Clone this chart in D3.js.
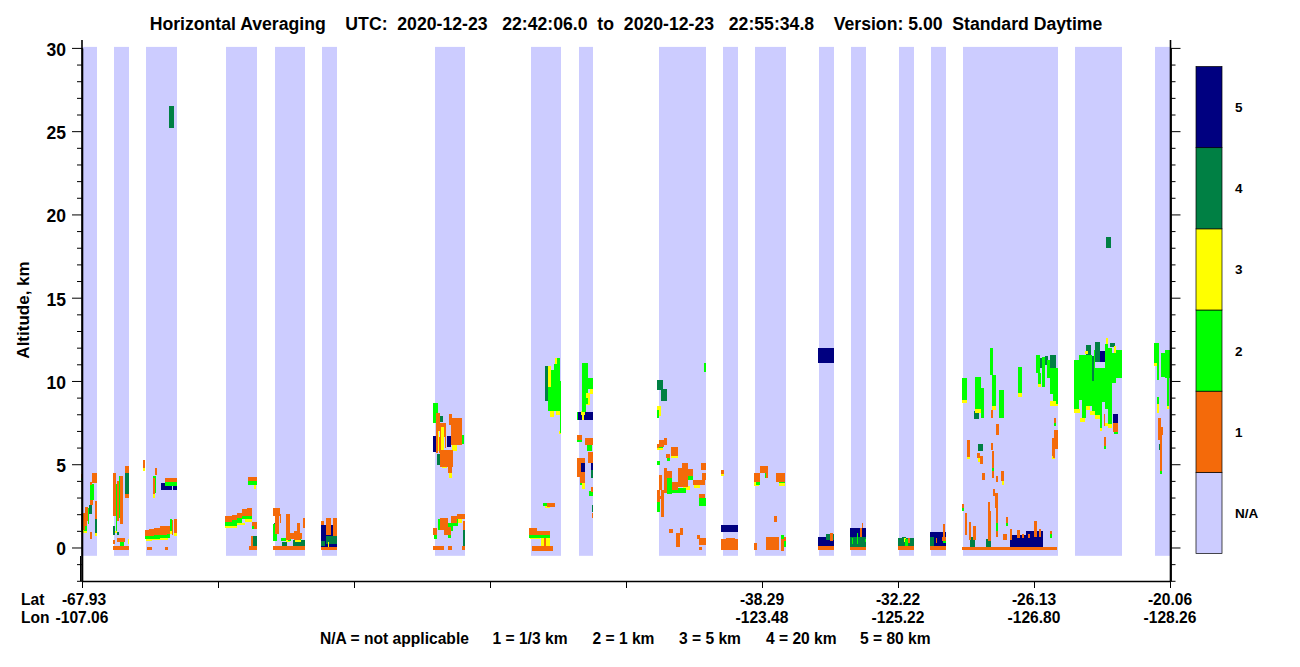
<!DOCTYPE html>
<html>
<head>
<meta charset="utf-8">
<script src="https://cdn.jsdelivr.net/npm/d3@7"></script>
<style>
  body { margin: 0; background: #fff; }
  text { font-family: "Liberation Sans", Arial, sans-serif; font-weight: bold; fill: #000; white-space: pre; }
</style>
</head>
<body>
<div id="viz"></div>
<script>
// along-track position is a profile index, altitude in km
// every row: [start, end, bottom, top]
const validSegments = [[0,15],[32,47],[64,95],[144,175],[193,223],[240,255],[353,383],[449,479],[497,511],
  [577,624],[641,656],[673,704],[737,752],[769,784],[817,832],[849,864],[881,976],[993,1040],[1073,1088]];

const navy5 = [
  [79,90,3.45,3.9],[91,95,3.45,3.9],[239,255,0.05,1.35],
  [351,354,5.75,6.7],[365,369,6.05,6.7],[495,511,7.65,8.15],[499,503,4.55,5.05],[509,511,4.65,5.05],
  [639,656,0.95,1.35],[736,752,11.05,11.95],[736,752,0.1,0.65],[768,784,0.65,1.15],[848,864,0.1,0.95],
  [928,944,0.05,0.75],[944,961,0.05,1.0],[1014,1023,11.15,11.8],[1031,1036,7.5,8.0]
];

const dkgreen4 = [
  [87,92,25.2,26.5],[1024,1029,18.0,18.65],
  [7,10,2.0,2.55],[13,15,0.8,1.7],[31,33,0.75,1.3],[35,37,0.75,0.95],[31,33,2.4,3.0],[43,47,3.2,4.5],
  [171,175,0.05,0.7],[192,194,0.45,1.5],[200,205,0.05,0.35],[211,223,0.05,0.45],
  [239,243,0.1,0.4],[244,252,0.2,0.7],[251,255,0.2,0.7],
  [356,361,7.55,7.9],[355,359,4.95,5.6],[378,380,6.2,6.8],[381,383,0.05,1.05],[463,466,8.8,10.9],
  [509,511,4.15,4.65],[510,511,2.15,2.55],[575,581,9.45,10.05],[579,585,8.8,9.5],[586,588,3.9,4.3],
  [744,752,0.45,0.8],[768,784,0.05,0.65],[816,832,0.1,0.55],[820,824,0.55,0.65],[848,852,0.1,0.65],
  [888,893,0.05,0.65],[904,909,0.05,0.5],[892,897,7.7,8.2],[896,901,5.8,6.2],
  [958,960,10.75,11.4],[963,966,10.95,11.5],[968,974,10.75,11.55],
  [1004,1009,11.55,12.15],[1013,1018,11.15,12.35],[1028,1033,12.05,12.25],[1010,1012,10,11.5],[1077,1079,5.85,6.2]
];

const yellow3 = [
  [0,5,0.85,1.05],[13,15,0.7,0.9],[33,35,0.9,1.0],[46,47,0.2,0.5],[61,63,4.6,4.75],[71,73,2.95,3.2],
  [64,70,0.38,0.52],[70,78,0.42,0.56],[78,86,0.46,0.6],[88,90,0.8,1.0],[92,95,0.7,0.85],
  [143,155,1.2,1.32],[155,163,1.35,1.5],[163,170,1.55,1.72],
  [172,174,3.5,3.8],[204,208,0.35,0.5],[213,219,0.35,0.5],[246,247,0.05,0.3],
  [356,357,5.8,7.0],[359,362,5.85,7.25],[370,375,5.8,6.25],[360,365,4.8,5.05],[367,370,4.2,4.5],
  [375,380,1.5,1.7],[466,469,9.65,10.9],[468,472,7.85,8.2],[474,478,7.95,8.2],[473,476,11.0,11.35],[477,479,6.8,7.0],
  [463,468,2.4,2.6],[448,458,0.5,0.6],[459,468,0.05,0.55],[499,503,7.95,8.2],[504,508,8.55,9.3],[508,511,9.2,9.5],
  [500,502,7.65,8.15],[500,503,3.5,3.9],[575,579,7.9,8.5],[575,581,5.85,6.05],[589,596,5.4,5.6],
  [601,608,3.45,3.7],[612,618,3.55,3.8],[639,642,4.3,4.45],[639,641,0,0.15],[672,677,3.7,4.0],
  [697,703,3.7,4.05],[684,687,0,0.2],[822,824,0.3,0.6],[885,888,5.3,5.5],[896,898,5.15,5.5],
  [920,922,3.75,4.0],[880,885,8.7,8.85],[893,899,8.1,8.3],[910,914,8.25,8.5],[936,940,9.05,9.3],
  [968,976,8.5,8.8],[956,959,9.65,9.8],[992,998,8.05,8.3],[998,1003,7.55,7.75],[1003,1008,8.25,8.5],
  [1008,1013,7.95,8.2],[1013,1018,7.7,7.95],[1018,1020,7.0,7.2],[1023,1026,7.3,7.5],[1026,1030,7.15,7.4],
  [1024,1026,12.2,12.55],[1032,1034,11.7,12.1],[1003,1006,11.6,11.8],[1075,1077,8.05,8.6],
  [1072,1077,10.9,11.1],[1085,1087,8.3,8.5],[970,973,5.3,5.5]
];

const green2 = [
  [-1,1,4.05,4.2],[8,12,2.85,3.8],[6,7,1.4,2.4],[2,5,1.0,1.3],
  [34,35,1.0,3.8],[37,38,1.8,4.3],[38,42,0.1,0.35],[41,42,0.05,0.35],
  [71,74,3.3,4.3],[83,95,3.7,3.95],[63,70,0.5,0.7],[70,78,0.54,0.75],[78,88,0.58,0.8],[88,90,1.0,1.7],
  [143,150,1.3,1.6],[150,155,1.3,1.7],[155,160,1.5,1.75],[160,170,1.7,1.95],[170,172,1.1,1.5],[166,175,3.75,4.05],
  [191,195,0.4,1.4],[206,209,0.4,0.7],[216,219,0.45,0.7],[199,204,0.4,0.6],
  [351,356,7.45,8.7],[378,382,6.2,6.75],[373,378,6.15,6.6],[356,358,1.05,1.7],[366,371,1.0,1.45],
  [370,376,1.3,1.7],[352,355,0.5,0.8],[366,369,0.55,0.9],
  [466,469,8.2,9.65],[469,472,8.2,10.65],[472,475,8.2,11.0],[475,478,8.2,11.35],[478,479,6.85,10],
  [461,469,2.5,2.7],[447,468,0.55,0.75],[500,504,8.15,11.1],[504,506,9.3,11.1],[504,506,8.6,9.0],[506,511,9.5,10.15],
  [495,496,7.65,8.15],[495,500,6.35,6.55],[505,510,5.8,6.2],[498,500,3.75,4.5],[507,511,3.1,3.4],
  [622,624,10.55,11.1],[575,577,7.75,8.25],[575,581,6.0,6.2],[585,588,5.2,5.4],[589,596,5.55,5.7],
  [575,578,4.95,5.2],[585,590,3.2,4.2],[590,604,3.3,3.6],[605,611,4.05,4.3],[575,578,2.15,2.75],
  [617,624,2.5,3.0],[646,652,0.5,0.6],[653,656,0,0.2],[674,678,3.75,4.0],[683,686,4.15,4.5],
  [697,703,3.9,4.2],[699,702,0.5,0.75],[702,704,0,0.4],[770,771,0.2,0.6],[775,776,0.2,0.9],[783,784,0.3,0.5],
  [823,826,0.1,0.5],[861,864,0.25,0.4],[880,882,2.2,2.4],[924,926,1.3,1.5],[910,912,4.6,4.8],
  [914,916,1.0,1.5],[968,970,0.6,0.8],
  [880,885,8.85,10.15],[893,899,8.3,10.25],[899,902,7.75,9.55],[908,911,10.35,11.95],[910,914,8.5,10.35],
  [917,922,7.8,9.45],[936,940,9.3,10.85],[954,958,10.45,11.55],[956,959,9.8,10.45],[960,963,9.65,11.45],
  [965,968,10.15,11.25],[968,971,9.2,10.75],[971,974,8.8,10.75],[974,976,8.6,10.75],
  [992,997,8.3,11.25],[997,1000,8.85,11.55],[1000,1004,7.75,11.55],[1004,1010,8.5,11.55],[1010,1012,8.2,10],[1012,1013,8.2,11.85],
  [1013,1018,7.95,10.75],[1018,1020,7.2,10.75],[1020,1023,8.75,10.75],[1023,1026,8.3,12.2],[1026,1030,7.4,12.0],
  [1030,1034,9.9,11.7],[1034,1040,10.2,11.85],[1032,1036,6.8,7.0],[1022,1024,5.9,6.1],
  [1072,1077,11.1,12.25],[1075,1077,10.05,11.15],[1079,1083,10.25,11.7],[1083,1088,10.15,11.85],[1085,1087,8.5,10.15],
  [1075,1077,8.6,9.05],[1078,1080,4.4,4.6],[972,974,7.3,7.5]
];

const orange1 = [
  [-1,1,4.2,4.4],[-1,3,1.05,2.1],[3,6,1.6,2.45],[3,5,1.3,2.0],[8,10,0.5,0.95],[10,15,3.85,4.5],
  [7.5,10,3.75,3.95],[8,11,2.55,2.85],[13,15,1.7,2.8],
  [31,34,1.9,4.5],[35,37,1.6,4.0],[38,41,1.4,4.3],[43,47,4.5,4.9],[43,47,3.0,3.2],
  [31,33,0.2,0.45],[31,47,-0.15,0.1],[35,43,0.35,0.55],
  [61,63,4.75,5.25],[71,73,3.2,4.2],[73,75,4.35,4.75],[83,95,3.95,4.15],
  [63,67,0.7,1.05],[67,72,0.72,1.1],[72,78,0.75,1.2],[78,85,0.78,1.3],[85,88,0.8,1.3],[90,91,0.75,1.65],[92,95,0.85,1.7],
  [65,70,-0.15,0.05],[83,86,-0.15,0.05],
  [143,150,1.55,1.9],[150,155,1.65,1.95],[155,160,1.75,2.1],[160,165,1.9,2.3],[165,170,1.9,2.35],
  [170,172,1.3,1.55],[172,175,1.1,1.55],[166,175,4.0,4.25],[169,171,0.1,0.7],[167,175,-0.15,0.1],
  [191,198,1.9,2.35],[193,197,0.8,1.9],[198,199,1.5,2.0],[204,208,0.45,2.0],[208,212,0.5,0.9],[212,215,0.45,1.0],
  [215,218,0.45,1.45],[218,220,0.5,0.85],[221,223,1.2,1.8],[191,223,-0.15,0.1],
  [239,242,1.35,1.6],[244,249,0.75,1.75],[251,255,0.7,1.8],[239,255,-0.15,0.05],
  [354,356,6.65,8.05],[356,358,7.0,8.05],[358,359,6.65,7.5],[362,364,6.65,7.5],[359,362,7.25,7.5],
  [369,380,6.15,7.75],[367,370,7.35,8.0],[354,356,5.65,6.65],[357,359,5.65,6.65],
  [358,371,4.85,5.85],[366,370,4.5,4.85],[363,364,6,6.65],
  [351,355,0.75,1.15],[358,366,1.05,1.75],[362,369,0.75,1.25],[369,375,1.45,1.9],[375,383,1.7,2.0],[381,383,1.05,1.6],
  [351,362,-0.15,0.1],[366,370,-0.15,0.1],[380,383,-0.15,0.1],
  [465,473,2.45,2.7],[447,468,0.75,1.0],[447,455,1.0,1.15],[462,464,0.05,0.55],[450,471,-0.2,0.1],
  [495,500,6.45,6.75],[503,511,6.15,6.6],[495,499,4.25,5.35],[499,503,5.05,5.35],[498,503,3.85,4.55],
  [506,511,5.05,5.75],[509,511,3.35,3.65],[510,511,1.75,2.05],
  [575,577,5.95,6.2],[577,582,6.05,6.45],[582,585,6.15,6.6],[584,588,5.35,5.6],[589,596,5.5,6.05],
  [577,580,3.45,4.35],[582,585,3.25,4.75],[585,590,4.2,4.6],[590,596,3.45,3.95],[596,600,3.65,4.75],[600,606,3.65,5.05],
  [606,611,4.3,4.7],[611,623,3.75,4.05],[620,624,4.05,4.45],[575,580,2.9,3.1],[579,582,1.85,3.45],[575,578,2.75,3.45],
  [617,623,2.95,3.2],[619,624,4.65,5.05],
  [587,591,0.85,1.1],[598,601,0.75,1.2],[594,598,0.05,0.9],[615,618,0.5,0.75],[617,624,0.15,0.55],[617,620,-0.15,0.05],
  [639,642,4.4,4.65],[639,656,-0.15,0.5],[644,653,0.15,0.55],
  [672,675,-0.15,0.25],[672,678,3.95,4.45],[678,686,4.45,4.9],[684,686,4.15,4.45],[694,703,3.95,4.45],[692,695,1.55,1.9],
  [684,697,-0.15,0.65],[699,702,-0.2,0.5],[702,704,0.4,0.65],
  [736,752,-0.15,0.1],[748,751,0.4,0.85],
  [778,780,0.65,1.15],[780,781,1.15,1.45],[768,784,-0.15,0.05],
  [816,832,-0.15,0.1],[826,828,0.25,0.55],
  [861,863,0.65,1.4],[860,864,0.4,0.65],[854,855,0.25,0.55],[848,864,-0.15,0.1],
  [880,975,-0.15,0.05],[880,882,2.4,2.6],[883,885,0.75,2.05],[887,889,0.45,1.55],[891,894,0.45,1.3],
  [906,908,0.4,2.75],[908,909,0.4,2.2],[911,913,3.1,3.5],[913,916,2.35,3.3],[914,916,1.5,2.35],[914,916,0.65,1.0],
  [924,926,1.5,1.85],[921,925,0.45,0.8],[928,930,0.45,1.1],[935,938,0.55,1.05],[940,942,0.55,0.8],[946,948,0.55,0.8],
  [952,955,0.65,1.6],[957,959,0.65,1.1],[968,970,0.8,1.0],
  [885,888,5.45,6.45],[895,898,5.35,5.7],[898,901,5.0,5.5],[900,903,4.05,4.45],[909,911,5.85,6.25],[910,912,4.8,5.8],
  [910,912,4.15,4.6],[914,916,3.95,4.3],[919,922,4.0,4.6],[914,917,6.75,7.4],[909,911,7.75,8.25],
  [972,974,7.5,7.8],[970,972,5.5,6.6],[972,976,5.9,7.05],[971,973,5.4,5.9],
  [1031,1036,6.95,7.45],[1022,1024,6.1,6.65],[1022,1023,7.3,8.0],
  [1076,1079,6.45,7.8],[1078,1081,6.75,7.25],[1078,1080,4.6,6.75]
];

const altTicksMajor = [0,5,10,15,20,25,30];
const altTicksMinor = [-2,-1,1,2,3,4,6,7,8,9,11,12,13,14,16,17,18,19,21,22,23,24,26,27,28,29];
const trackTicks = [0,136,272,408,544,680,816,952,1088];

const latLabels = [{p:680,lat:"-38.29",lon:"-123.48"},{p:816,lat:"-32.22",lon:"-125.22"},
  {p:952,lat:"-26.13",lon:"-126.80"},{p:1088,lat:"-20.06",lon:"-128.26"}];

const classLabels = ["N/A","1","2","3","4","5"];
const classColors = ["#ccccff","#f46a0a","#00ff00","#ffff00","#008044","#000080"];

const titleText = "Horizontal Averaging    UTC:  2020-12-23   22:42:06.0  to  2020-12-23   22:55:34.8    Version: 5.00  Standard Daytime";
const keyTexts = ["N/A = not applicable", "1 = 1/3 km", "2 = 1 km", "3 = 5 km", "4 = 20 km", "5 = 80 km"];
const keyStarts = [320, 492.5, 592.5, 679, 766, 860];

const svg = d3.select("#viz").append("svg").attr("width", 1300).attr("height", 667);

const x = d3.scaleLinear().domain([0, 1088]).range([82, 1170]);
const y = d3.scaleLinear().domain([-2, 30]).range([580.8, 47.9]);

// background of valid data
svg.append("g").selectAll("rect")
    .data(validSegments)
    .enter().append("rect")
    .attr("x", d => x(d[0]))
    .attr("width", d => x(d[1]) - x(d[0]))
    .attr("y", y(30) - 1)
    .attr("height", y(-0.5) - y(30) + 1)
    .attr("fill", classColors[0]);

// cells, high class first so the fringe of the small ones stays on top
const layers = [[navy5, 5], [dkgreen4, 4], [yellow3, 3], [green2, 2], [orange1, 1]];
layers.forEach(([cells, cls]) => {
    svg.append("g").attr("shape-rendering", "crispEdges").selectAll("rect")
        .data(cells)
        .enter().append("rect")
        .attr("x", d => x(d[0]))
        .attr("width", d => x(d[1]) - x(d[0]))
        .attr("y", d => y(d[3]))
        .attr("height", d => y(d[2]) - y(d[3]))
        .attr("fill", classColors[cls]);
});

// axes
const tidy = g => g.select(".domain").attr("stroke-width", 1.6);
svg.append("g").attr("transform", "translate(82,0)")
    .call(d3.axisLeft(y).tickValues(altTicksMinor).tickSize(5).tickFormat("").tickSizeOuter(0));
svg.append("g").attr("transform", "translate(82,0)")
    .call(d3.axisLeft(y).tickValues(altTicksMajor).tickSize(10).tickPadding(6).tickSizeOuter(0))
    .call(tidy)
    .call(g => g.selectAll("text").attr("font-size", 17.5).attr("font-family", "Liberation Sans").attr("dy", "0.42em"));
svg.append("g").attr("transform", "translate(1170.5,0)")
    .call(d3.axisRight(y).tickValues(altTicksMinor).tickSize(5).tickFormat("").tickSizeOuter(0));
svg.append("g").attr("transform", "translate(1170.5,0)")
    .call(d3.axisRight(y).tickValues(altTicksMajor).tickSize(10).tickFormat("").tickSizeOuter(0))
    .call(tidy);
svg.append("g").attr("transform", "translate(0,581)")
    .call(d3.axisBottom(x).tickValues(trackTicks).tickSize(7).tickFormat("").tickSizeOuter(0))
    .call(tidy);

// both vertical axis lines go up past the 30 km tick
svg.selectAll(null).data([82, 1170.5]).enter().append("line")
    .attr("x1", d => d).attr("x2", d => d).attr("y1", 40).attr("y2", 581)
    .attr("stroke", "#000").attr("stroke-width", 1.6);
svg.append("line").attr("x1", 80.5).attr("x2", 80.5).attr("y1", 556).attr("y2", 581).attr("stroke", "#000");

svg.append("text").attr("x", 626).attr("y", 30).attr("text-anchor", "middle").attr("font-size", 17.65).text(titleText);
svg.append("text").attr("transform", "translate(29,310) rotate(-90)").attr("text-anchor", "middle").attr("font-size", 17).text("Altitude, km");

// lat lon labels
const small = 15.6;
svg.append("text").attr("x", 21).attr("y", 605).attr("font-size", small).text("Lat");
svg.append("text").attr("x", 21).attr("y", 623).attr("font-size", small).text("Lon");
svg.append("text").attr("x", 84).attr("y", 605).attr("text-anchor", "middle").attr("font-size", small).text("-67.93");
svg.append("text").attr("x", 82).attr("y", 623).attr("text-anchor", "middle").attr("font-size", small).text("-107.06");
latLabels.forEach(d => {
    svg.append("text").attr("x", x(d.p)).attr("y", 605).attr("text-anchor", "middle").attr("font-size", small).text(d.lat);
    svg.append("text").attr("x", x(d.p)).attr("y", 623).attr("text-anchor", "middle").attr("font-size", small).text(d.lon);
});
svg.append("g").selectAll("text")
    .data(keyTexts)
    .enter().append("text")
    .attr("x", (d, i) => keyStarts[i])
    .attr("y", 644)
    .attr("font-size", small)
    .text(d => d);

// colour bar
const bar = d3.scaleBand().domain(classLabels).range([553.5, 66.5]);
svg.append("g").selectAll("rect")
    .data(classLabels)
    .enter().append("rect")
    .attr("x", 1196)
    .attr("y", d => bar(d))
    .attr("width", 26)
    .attr("height", bar.bandwidth())
    .attr("fill", (d, i) => classColors[i])
    .attr("stroke", "#000")
    .attr("stroke-width", 0.7);
svg.append("g").selectAll("text")
    .data(classLabels)
    .enter().append("text")
    .attr("x", 1235)
    .attr("y", d => bar(d) + bar.bandwidth() / 2 + 5)
    .attr("font-size", 13.5)
    .text(d => d);
</script>
</body>
</html>
